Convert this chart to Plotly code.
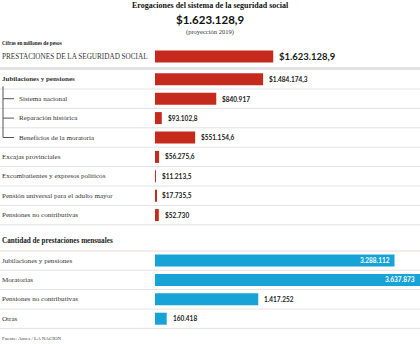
import plotly.graph_objects as go

# ---- data ----
red_labels = ["PRESTACIONES DE LA SEGURIDAD SOCIAL", "Jubilaciones y pensiones", "Sistema nacional",
              "Reparación histórica", "Beneficios de la moratoria", "Excajas provinciales",
              "Excombatientes y expresos políticos", "Pensión universal para el adulto mayor",
              "Pensiones no contributivas"]
red_values = [1623128.9, 1484174.3, 840917, 93102.8, 551154.6, 56275.6, 11213.5, 17735.5, 52730]
red_texts = ["$1.623.128,9", "$1.484.174,3", "$840.917", "$93.102,8", "$551.154,6", "$56.275,6",
             "$11.213,5", "$17.735,5", "$52.730"]

blue_labels = ["Jubilaciones y pensiones", "Moratorias", "Pensiones no contributivas", "Otras"]
blue_values = [3288112, 3637873, 1417252, 160418]
blue_texts = ["3.288.112", "3.637.873", "1.417.252", "160.418"]

title = "Erogaciones del sistema de la seguridad social"
total_text = "$1.623.128,9"
subtitle = "(proyección 2019)"
unit_note = "Cifras en millones de pesos"
section2 = "Cantidad de prestaciones mensuales"
source = "Fuente: Anses / LA NACION"

# ---- layout constants ----
W, H = 420, 344
RED = "#c62a1c"
BLUE = "#17a3d6"
SERIF = "Liberation Serif"
SANS = "Lato"
step = 19.4
red_y = [56.5] + [79.3 + step * i for i in range(len(red_values) - 1)]
blue_y = [260.5 + step * i for i in range(len(blue_values))]
xmax = max(blue_values)

fig = go.Figure()
fig.add_trace(go.Bar(orientation="h", x=red_values, y=red_y, width=12,
                     marker=dict(color=RED, line=dict(width=0)), hoverinfo="skip"))
fig.add_trace(go.Bar(orientation="h", x=blue_values, y=blue_y, width=12,
                     marker=dict(color=BLUE, line=dict(width=0)), hoverinfo="skip"))

ann = []
shapes = []

# header texts
ann.append(dict(text=f"<b>{title}</b>", x=0.5, xref="paper", y=5, yref="y", xanchor="center",
                yanchor="middle", showarrow=False, font=dict(family=SERIF, size=8, color="#111")))
ann.append(dict(text=f"<b>{total_text}</b>", x=0.5, xref="paper", y=19.5, yref="y", xanchor="center",
                yanchor="middle", showarrow=False, font=dict(family=SANS, size=11.5, color="#111")))
ann.append(dict(text=subtitle, x=0.5, xref="paper", y=31.5, yref="y", xanchor="center",
                yanchor="middle", showarrow=False, font=dict(family=SERIF, size=6.5, color="#333")))
ann.append(dict(text=f"<b>{unit_note}</b>", x=0, xref="paper", y=43, yref="y", xanchor="left",
                yanchor="middle", showarrow=False, font=dict(family=SERIF, size=5.2, color="#222")))

# red rows
for i, (lab, v, t, yy) in enumerate(zip(red_labels, red_values, red_texts, red_y)):
    indent = 17 if i in (2, 3, 4) else 0
    if i == 0:
        fsize, txt = 7.2, lab
    elif i == 1:
        fsize, txt = 7, f"<b>{lab}</b>"
    else:
        fsize, txt = 7.1, lab
    ann.append(dict(text=txt, x=indent / W, xref="paper", y=yy, yref="y", xanchor="left",
                    yanchor="middle", showarrow=False, font=dict(family=SERIF, size=fsize, color="#333")))
    vsize = 9.5 if i == 0 else 6.5
    ann.append(dict(text=f"<b>{t}</b>", x=v, xref="x", y=yy, yref="y", xanchor="left", xshift=4,
                    yanchor="middle", showarrow=False, font=dict(family=SANS, size=vsize, color="#1a1a1a")))
    # separator line below row
    sep = yy + 9.7 if i > 0 else 68.5
    shapes.append(dict(type="line", xref="paper", yref="y", x0=0, x1=1, y0=sep, y1=sep,
                       line=dict(color="#e2e2e2", width=3 if i == 0 else 1)))

# tree connector
tree_color = "#555"
shapes.append(dict(type="line", xref="paper", yref="y", x0=3 / W, x1=3 / W, y0=red_y[1] + 7, y1=red_y[4],
                   line=dict(color=tree_color, width=1)))
for k in (2, 3, 4):
    shapes.append(dict(type="line", xref="paper", yref="y", x0=3 / W, x1=14 / W, y0=red_y[k], y1=red_y[k],
                       line=dict(color=tree_color, width=1)))

# blue section
ann.append(dict(text=f"<b>{section2}</b>", x=0, xref="paper", y=241, yref="y", xanchor="left",
                yanchor="middle", showarrow=False, font=dict(family=SERIF, size=7.2, color="#222")))
shapes.append(dict(type="line", xref="paper", yref="y", x0=0, x1=1, y0=251, y1=251,
                   line=dict(color="#f0d6d6", width=1)))
for i, (lab, v, t, yy) in enumerate(zip(blue_labels, blue_values, blue_texts, blue_y)):
    ann.append(dict(text=lab, x=0, xref="paper", y=yy, yref="y", xanchor="left",
                    yanchor="middle", showarrow=False, font=dict(family=SERIF, size=7.1, color="#333")))
    inside = v > 0.6 * xmax
    ann.append(dict(text=f"<b>{t}</b>", x=v, xref="x", y=yy, yref="y",
                    xanchor="right" if inside else "left", xshift=-3 if inside else 4,
                    yanchor="middle", showarrow=False,
                    font=dict(family=SANS, size=6.5, color="white" if inside else "#1a1a1a")))
    sep = yy + 9.7
    shapes.append(dict(type="line", xref="paper", yref="y", x0=0, x1=1, y0=sep, y1=sep,
                       line=dict(color="#e2e2e2", width=1)))

ann.append(dict(text=source, x=0, xref="paper", y=338, yref="y", xanchor="left",
                yanchor="middle", showarrow=False, font=dict(family=SERIF, size=5, color="#444")))

fig.update_layout(
    width=W, height=H, margin=dict(l=0, r=0, t=0, b=0),
    paper_bgcolor="white", plot_bgcolor="white", showlegend=False, barmode="overlay",
    xaxis=dict(domain=[155 / W, 1], range=[0, xmax], visible=False, fixedrange=True),
    yaxis=dict(range=[H, 0], visible=False, fixedrange=True),
    annotations=ann, shapes=[dict(s, layer="below") for s in shapes],
)

fig.write_html("out.html", config={"displayModeBar": False})
